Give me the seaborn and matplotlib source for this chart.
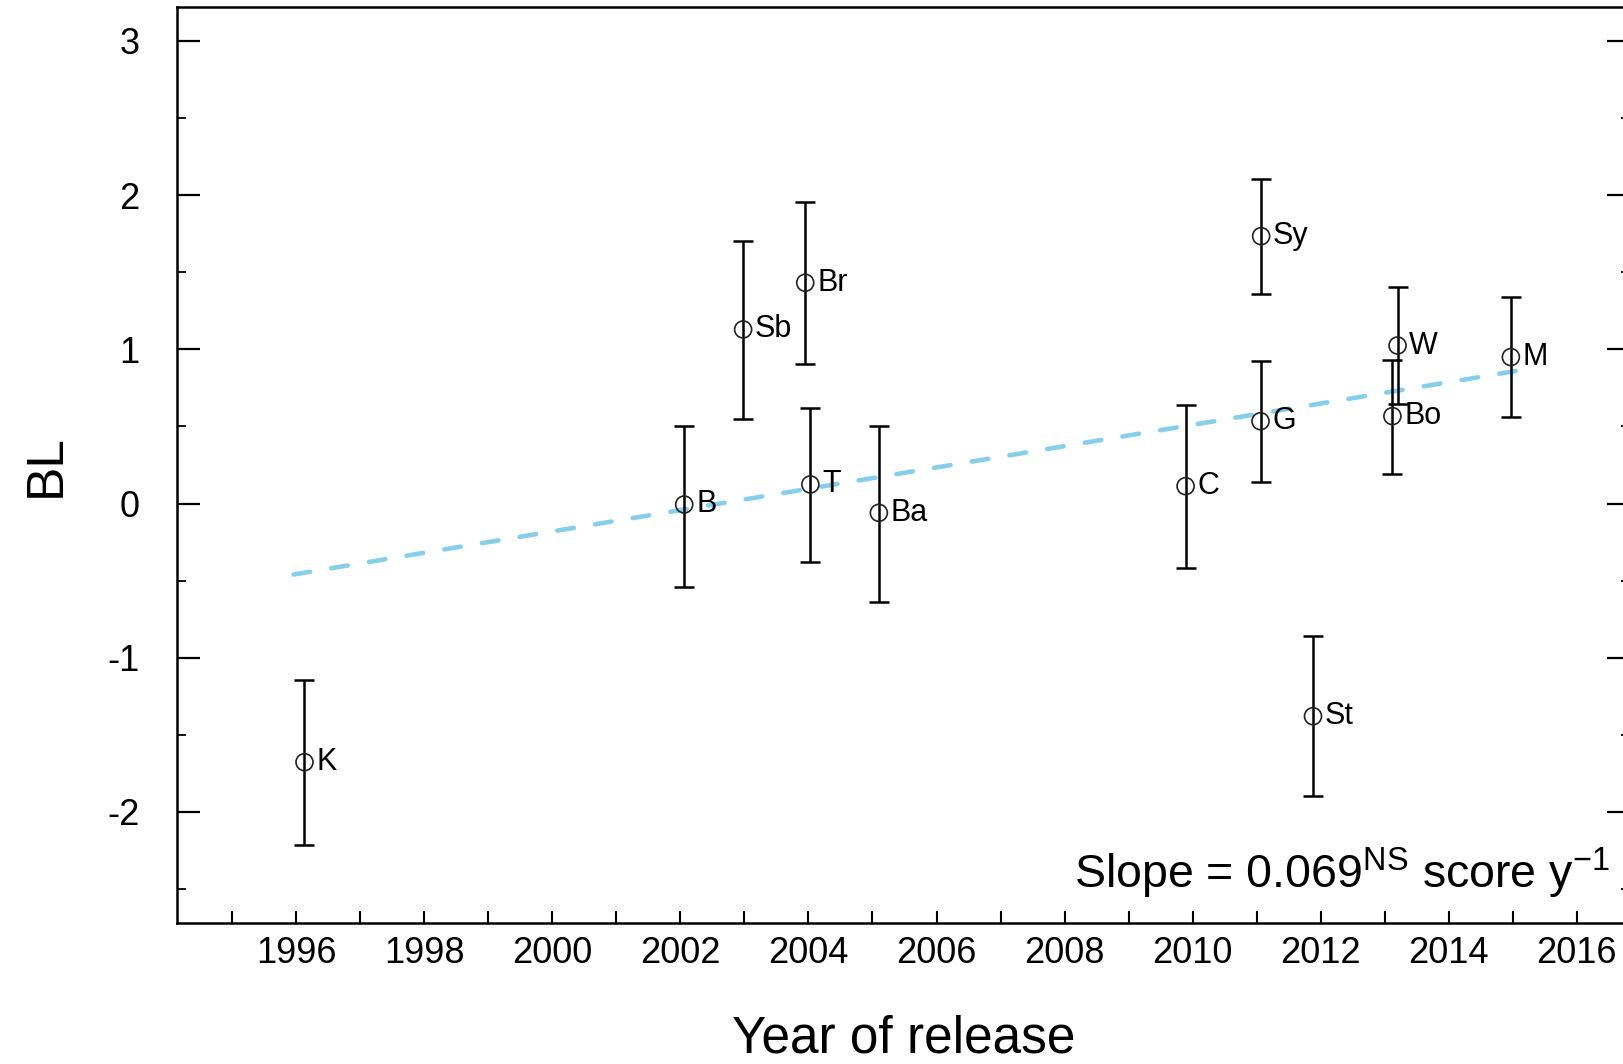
import matplotlib
matplotlib.use("Agg")
import matplotlib.pyplot as plt
import seaborn as sns
import pandas as pd
from matplotlib.ticker import MultipleLocator

names = ['K', 'B', 'Sb', 'Br', 'T', 'Ba', 'C', 'Sy', 'G', 'St', 'W', 'Bo', 'M']
years = [1996.13, 2002.06, 2002.98, 2003.95, 2004.03, 2005.10, 2009.89,
         2011.07, 2011.06, 2011.88, 2013.20, 2013.12, 2014.97]
bl = [-1.677, -0.006, 1.129, 1.432, 0.124, -0.060, 0.113,
      1.734, 0.534, -1.379, 1.025, 0.567, 0.950]
upper = [-1.147, 0.506, 1.700, 1.955, 0.617, 0.506, 0.636,
         2.106, 0.924, -0.860, 1.406, 0.934, 1.341]
lower = [-2.211, -0.540, 0.550, 0.902, -0.380, -0.637, -0.421,
         1.362, 0.141, -1.898, 0.647, 0.195, 0.560]
trend_x = [1995.96, 2015.05]
trend_y = [-0.46, 0.86]
y_ticks = [-2, -1, 0, 1, 2, 3]
y_tick_labels = ['-2', '-1', '0', '1', '2', '3']
slope_text = 'Slope = 0.069$^{\\mathrm{NS}}$ score y$^{-1}$'

sns.set_theme(style='ticks')
plt.rcParams['font.family'] = ['Liberation Sans', 'DejaVu Sans']
plt.rcParams['mathtext.fontset'] = 'custom'
plt.rcParams['mathtext.rm'] = 'Liberation Sans'
plt.rcParams['mathtext.it'] = 'Liberation Sans:italic'
plt.rcParams['mathtext.bf'] = 'Liberation Sans:bold'
plt.rcParams['lines.scale_dashes'] = False
plt.rcParams['text.color'] = 'black'
plt.rcParams['axes.labelcolor'] = 'black'
plt.rcParams['xtick.color'] = 'black'
plt.rcParams['ytick.color'] = 'black'

df = pd.DataFrame({'name': names, 'year': years, 'bl': bl,
                   'upper': upper, 'lower': lower})

fig = plt.figure(figsize=(16.23, 10.64), dpi=100)
ax = fig.add_axes([0.1091, 0.1325, 0.8952, 0.8609])

# trend line
sns.lineplot(x=trend_x, y=trend_y, ax=ax, color='#87CEEB', linewidth=3.3,
             linestyle=(0, (12, 15.5)), dash_capstyle='round', zorder=1)

# error bars
yerr = [[b - l for b, l in zip(df['bl'], df['lower'])],
        [u - b for b, u in zip(df['bl'], df['upper'])]]
ax.errorbar(df['year'], df['bl'], yerr=yerr, fmt='none', ecolor='black',
            elinewidth=1.8, capsize=7.5, capthick=1.8, zorder=2)

# points
sns.scatterplot(data=df, x='year', y='bl', ax=ax, marker='o', s=150,
                facecolor='none', edgecolor='#222222', linewidth=1.2, zorder=3)

for n, x, y in zip(df['name'], df['year'], df['bl']):
    ax.annotate(n, (x, y), xytext=(8.5, 0), textcoords='offset points',
                ha='left', va='center', fontsize=22, color='black')

ax.set_xlim(1994.14, 2016.83)
ax.set_ylim(-2.72, 3.22)
ax.xaxis.set_major_locator(MultipleLocator(2))
ax.xaxis.set_minor_locator(MultipleLocator(1))
ax.yaxis.set_minor_locator(MultipleLocator(0.5))
ax.set_yticks(y_ticks)
ax.set_yticklabels(y_tick_labels)

ax.tick_params(axis='x', which='both', direction='in', length=8.6, width=1.5,
               labelsize=26, pad=9, top=False, bottom=True)
ax.tick_params(axis='y', which='major', direction='in', length=16.5, width=1.6,
               labelsize=26, pad=27, left=True, right=True)
ax.tick_params(axis='y', which='minor', direction='in', length=6.5, width=1.3,
               left=True, right=True)

for sp in ax.spines.values():
    sp.set_linewidth(1.8)
    sp.set_color('black')

ax.set_xlabel('Year of release', fontsize=37, labelpad=32)
ax.set_ylabel('BL', fontsize=37, labelpad=26)

ax.text(0.986, 0.038, slope_text, transform=ax.transAxes, ha='right',
        va='baseline', fontsize=33.5, color='black')

fig.savefig('out.png', dpi=100)
